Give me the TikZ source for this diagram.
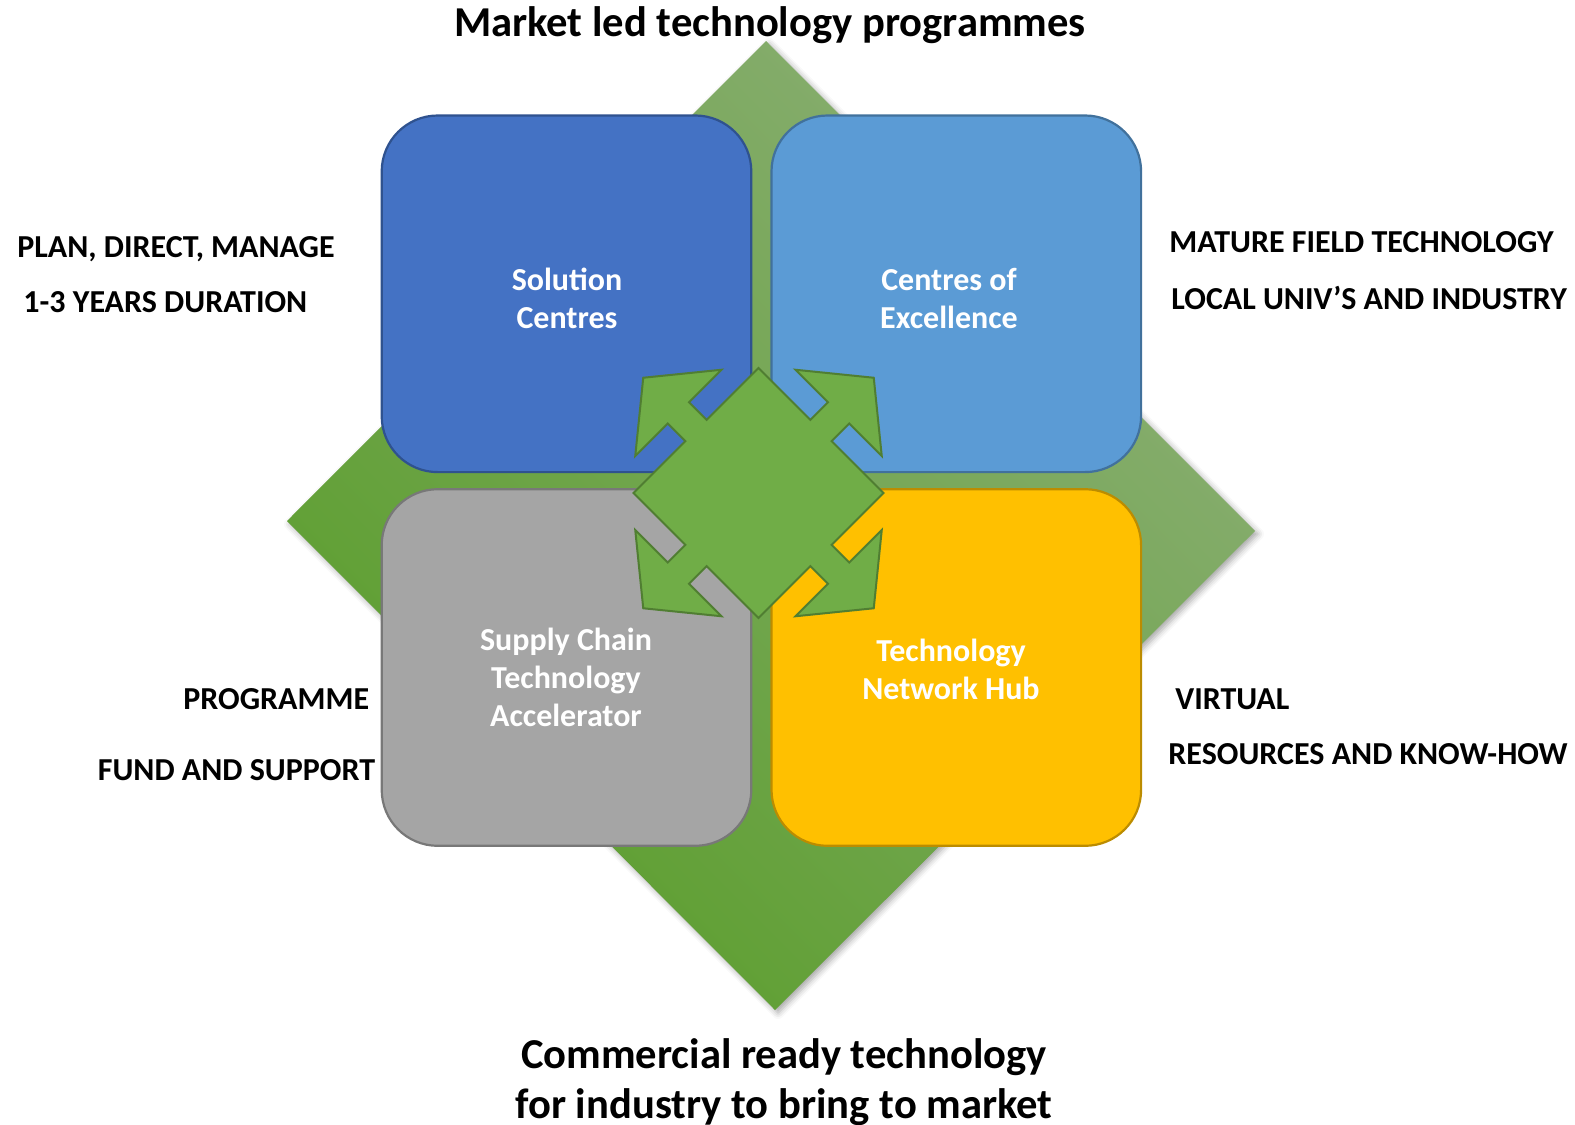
\documentclass[tikz,border=0pt]{standalone}
\usepackage{fontspec}
\setmainfont{Carlito}
\usetikzlibrary{shadows.blur}
\definecolor{dlight}{HTML}{8AAE74}
\definecolor{ddark}{HTML}{5B9E2C}
\definecolor{bAfill}{HTML}{4472C4}
\definecolor{bAline}{HTML}{2F528F}
\definecolor{bBfill}{HTML}{5B9BD5}
\definecolor{bBline}{HTML}{41719C}
\definecolor{bCfill}{HTML}{A5A5A5}
\definecolor{bCline}{HTML}{787878}
\definecolor{bDfill}{HTML}{FFC000}
\definecolor{bDline}{HTML}{BC8C00}
\definecolor{qfill}{HTML}{70AD47}
\definecolor{qline}{HTML}{507E32}
\begin{document}
\begin{tikzpicture}[x=0.5pt,y=-0.5pt,
  box/.style={draw, line width=1.1pt, rounded corners=28pt, minimum width=184.8pt, minimum height=178.3pt, inner sep=0pt},
  boxtext/.style={text=white, font=\fontsize{16}{19}\selectfont\bfseries, align=center, inner sep=0pt},
  label/.style={font=\fontsize{16}{19}\selectfont\bfseries, inner sep=0pt},
  titletext/.style={font=\fontsize{21.3}{25}\selectfont\bfseries, inner sep=0pt, anchor=base},
  quad/.style={fill=qfill, draw=qline, line width=1pt, line join=miter}]
\useasboundingbox (0,0) rectangle (1575,1125);

% big diamond
\coordinate (dT) at (766,41);
\coordinate (dR) at (1255,531);
\coordinate (dB) at (775,1010);
\coordinate (dL) at (287,521);
\shade[top color=dlight, bottom color=ddark, shading angle=-45,
  blur shadow={shadow xshift=1.5pt, shadow yshift=-1.5pt, shadow blur radius=3pt, shadow opacity=35}]
  (dT) -- (dR) -- (dB) -- (dL) -- cycle;

% boxes
\node[box, fill=bAfill, draw=bAline] (sol) at (566.5,293.8) {};
\node[box, fill=bBfill, draw=bBline] (coe) at (956.3,293.8) {};
\node[box, fill=bCfill, draw=bCline] (sca) at (566.5,667.5) {};
\node[box, fill=bDfill, draw=bDline] (tnh) at (956.3,667.5) {};

\node[boxtext] (solt) at (567,298) {Solution\\Centres};
\node[boxtext] (coet) at (949,298) {Centres of\\Excellence};
\node[boxtext] (scat) at (566,677.5) {Supply Chain\\Technology\\Accelerator};
\node[boxtext] (tnht) at (951,669.5) {Technology\\Network Hub};

% central quad arrow
\def\qa{88.4}\def\qw{15}\def\qb{113.3}\def\qh{61}\def\qt{163}
\begin{scope}[shift={(758.5,493)}, rotate=45]
\draw[quad] (\qa,-\qa) -- (\qa,-\qw) -- (\qb,-\qw) -- (\qb,-\qh) -- (\qt,0) -- (\qb,\qh) -- (\qb,\qw) -- (\qa,\qw) -- (\qa,\qa)
 -- (\qw,\qa) -- (\qw,\qb) -- (\qh,\qb) -- (0,\qt) -- (-\qh,\qb) -- (-\qw,\qb) -- (-\qw,\qa) -- (-\qa,\qa)
 -- (-\qa,\qw) -- (-\qb,\qw) -- (-\qb,\qh) -- (-\qt,0) -- (-\qb,-\qh) -- (-\qb,-\qw) -- (-\qa,-\qw) -- (-\qa,-\qa)
 -- (-\qw,-\qa) -- (-\qw,-\qb) -- (-\qh,-\qb) -- (0,-\qt) -- (\qh,-\qb) -- (\qw,-\qb) -- (\qw,-\qa) -- cycle;
\end{scope}

% titles
\node[titletext] (top) at (770,36) {Market led technology programmes};
\node[titletext] (bot1) at (784,1068) {Commercial ready technology};
\node[titletext] (bot2) at (784,1118) {for industry to bring to market};

% side labels
\node[label, anchor=base west] (l1) at (17,257) {PLAN, DIRECT, MANAGE};
\node[label, anchor=base west] (l2) at (23,312) {1-3 YEARS DURATION};
\node[label, anchor=base west] (l3) at (183,709) {PROGRAMME};
\node[label, anchor=base west] (l4) at (97.5,780.5) {FUND AND SUPPORT};
\node[label, anchor=base west] (r1) at (1169,252) {MATURE FIELD TECHNOLOGY};
\node[label, anchor=base west] (r2) at (1171,309) {LOCAL UNIV’S AND INDUSTRY};
\node[label, anchor=base west] (r3) at (1175,709) {VIRTUAL};
\node[label, anchor=base west] (r4) at (1168,764) {RESOURCES AND KNOW-HOW};
\end{tikzpicture}
\end{document}
